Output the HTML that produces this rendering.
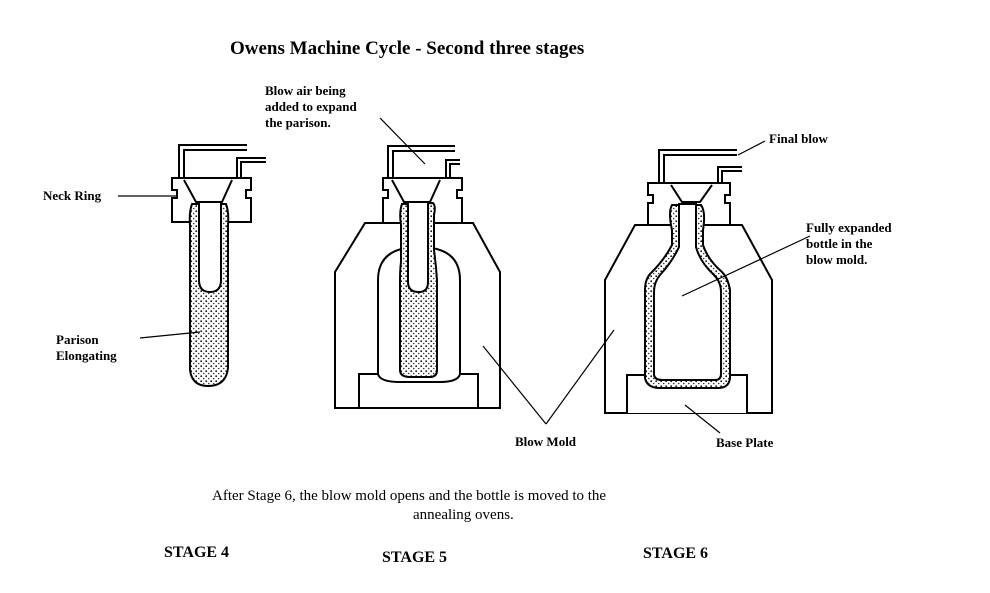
<!DOCTYPE html>
<html><head><style>
body{margin:0;background:#fff;}
svg{display:block;}
text{font-family:"Liberation Serif",serif;fill:#000;}
</style></head><body>
<svg width="990" height="593" viewBox="0 0 990 593" xmlns="http://www.w3.org/2000/svg">
<defs>
<pattern id="dots" width="5" height="5" patternUnits="userSpaceOnUse">
<rect width="5" height="5" fill="#fff"/>
<circle cx="1.2" cy="1.2" r="0.9" fill="#111"/>
<circle cx="3.7" cy="3.5" r="0.8" fill="#333"/>
</pattern>
</defs>
<g stroke="#000" stroke-width="2" fill="none">
<!-- Stage 4 -->
<path d="M179,178 V145 H247 M184,178 V150 H247"/>
<path d="M237,178 V158 H266 M241,178 V162 H266"/>
<path d="M172,178 H251 V190 H246 V198 H251 V222 H172 V198 H177 V190 H172 Z" fill="#fff"/>
<path d="M184,180 L196,202 H222 L232,180"/>
<path d="M192,204 Q189,212 190,225 L190,370 Q192,386 208,386 Q226,386 228,368 L228,225 Q229,212 226,204 Z" fill="url(#dots)"/>
<path d="M199,203 V280 Q199,292 210,292 Q221,292 221,280 V203" fill="#fff"/>
<!-- Stage 5 -->
<path d="M388,178 V146 H455 M393,178 V151 H455"/>
<path d="M446,178 V160 H460 M450,178 V164 H460"/>
<path d="M383,178 H462 V190 H457 V198 H462 V224 H383 V198 H388 V190 H383 Z" fill="#fff"/>
<path d="M392,180 L404,202 H430 L440,180"/>
<path d="M365,223 H473 L500,272 V408 H335 V272 Z" fill="#fff"/>
<path d="M359,408 V374 H378 V280 Q378,247 419,247 Q460,247 460,280 V374 H478 V408"/>
<path d="M378,374 Q380,382 400,382 H440 Q458,382 460,374"/>
<path d="M402,204 Q399,212 401,225 L401,262 Q400,270 400,280 L400,370 Q400,377 410,377 H430 Q437,377 437,370 L437,280 Q436,265 434,250 L434,215 Q436,206 433,203 Z" fill="url(#dots)"/>
<path d="M408,203 V282 Q408,292 419,292 Q428,292 428,282 V203" fill="#fff"/>
<!-- Stage 6 -->
<path d="M659,183 V150 H737 M664,183 V155 H737"/>
<path d="M718,183 V167 H742 M722,183 V171 H742"/>
<path d="M648,183 H730 V195 H725 V203 H730 V226 H648 V203 H653 V195 H648 Z" fill="#fff"/>
<path d="M671,185 L682,202 H700 L712,185"/>
<path d="M635,225 H742 L772,280 V413 H605 V280 Z" fill="#fff"/>
<path d="M627,413 V375 H747 V413" fill="#fff"/>
<path d="M672,205 Q668,212 672,230 L672,245 Q664,260 652,272 Q645,278 645,290 L645,378 Q647,388 660,388 H718 Q729,388 730,378 L730,290 Q728,278 722,272 Q708,260 703,245 L703,230 Q706,212 701,205 Z" fill="url(#dots)"/>
<path d="M679,204 L679,247 Q672,262 660,275 Q654,282 654,292 V375 Q655,380 662,380 H715 Q721,380 721,374 V292 Q721,282 714,275 Q700,262 696,247 V204 Z" fill="#fff"/>
</g>
<!-- leader lines -->
<g stroke="#000" stroke-width="1.2">
<line x1="118" y1="196" x2="178" y2="196"/>
<line x1="140" y1="338" x2="200" y2="332"/>
<line x1="380" y1="118" x2="425" y2="164"/>
<line x1="765" y1="141" x2="738" y2="155"/>
<line x1="810" y1="236" x2="682" y2="296"/>
<line x1="546" y1="424" x2="483" y2="346"/>
<line x1="546" y1="424" x2="614" y2="330"/>
<line x1="720" y1="433" x2="685" y2="405"/>
</g>
<text x="230" y="54" font-size="19" font-weight="bold">Owens Machine Cycle - Second three stages</text>
<g font-size="13" font-weight="bold">
<text x="265" y="95">Blow air being</text>
<text x="265" y="111">added to expand</text>
<text x="265" y="127">the parison.</text>
<text x="43" y="200">Neck Ring</text>
<text x="56" y="344">Parison</text>
<text x="56" y="360">Elongating</text>
<text x="769" y="143">Final blow</text>
<text x="806" y="232">Fully expanded</text>
<text x="806" y="248">bottle in the</text>
<text x="806" y="264">blow mold.</text>
<text x="515" y="446">Blow Mold</text>
<text x="716" y="447">Base Plate</text>
</g>
<g font-size="15">
<text x="212" y="500">After Stage 6, the blow mold opens and the bottle is moved to the</text>
<text x="413" y="519">annealing ovens.</text>
</g>
<g font-size="16" font-weight="bold">
<text x="164" y="557">STAGE 4</text>
<text x="382" y="562">STAGE 5</text>
<text x="643" y="558">STAGE 6</text>
</g>
</svg>
</body></html>
